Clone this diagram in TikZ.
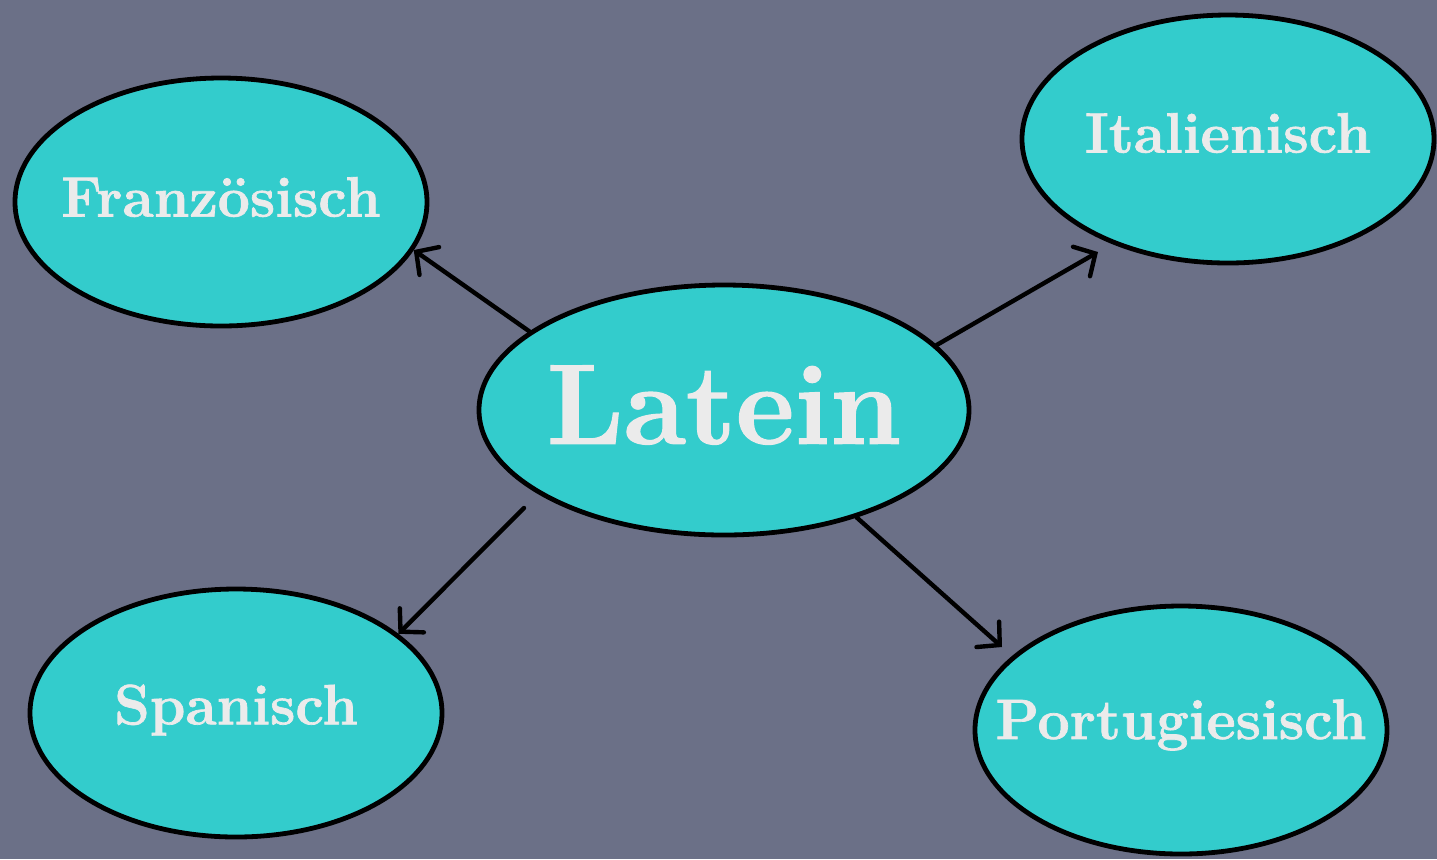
\documentclass[tikz,border=0pt]{standalone}
\usepackage{fontspec}
\setmainfont{Latin Modern Roman}[BoldFeatures={FakeBold=1.2}]
\usetikzlibrary{shapes.geometric,arrows.meta}
\definecolor{bgslate}{HTML}{6B7087}
\definecolor{lang}{HTML}{33CCCC}
\definecolor{langtext}{HTML}{EBEBEB}
\tikzset{
  langnode/.style={draw, ellipse, fill=lang, line width=2.4pt, inner sep=0pt,
    minimum width=206pt, minimum height=124pt},
  root/.style={langnode, minimum width=245pt, minimum height=125pt},
  langlabel/.style={text=langtext, font=\fontsize{28.5}{28.5}\selectfont\bfseries},
  rootlabel/.style={text=langtext, font=\fontsize{57}{57}\selectfont\bfseries},
  derive/.style={line width=2.2pt, line cap=round,
    -{Straight Barb[length=8pt, width=17pt, line cap=round]}}
}
\begin{document}
\begin{tikzpicture}[x=0.5pt, y=-0.5pt]
\fill[bgslate] (0,0) rectangle (1437,859);
\useasboundingbox (0,0) rectangle (1437,859);
\node[root] (lat) at (724,410) {};
\node[langnode] (fr) at (221,202) {};
\node[langnode] (it) at (1228,139) {};
\node[langnode] (sp) at (236,713) {};
\node[langnode] (pt) at (1181,730) {};
\node[rootlabel] (latt) at (724,405) {Latein};
\node[langlabel] (frt) at (221,197) {Französisch};
\node[langlabel] (itt) at (1228,133) {Italienisch};
\node[langlabel] (spt) at (236,710) {Spanisch};
\node[langlabel] (ptt) at (1181,725) {Portugiesisch};
% free ends of the arrows
\coordinate (itend) at (1098,252);
\coordinate (spstart) at (524,508);
\coordinate (ptend) at (1002,647);
\draw[derive] (lat.158) -- (fr.-14);
\draw[derive] (lat.17) -- (itend);
\draw[derive] (spstart) -- (sp.26);
\draw[derive] (lat.-39) -- (ptend);
\end{tikzpicture}
\end{document}
